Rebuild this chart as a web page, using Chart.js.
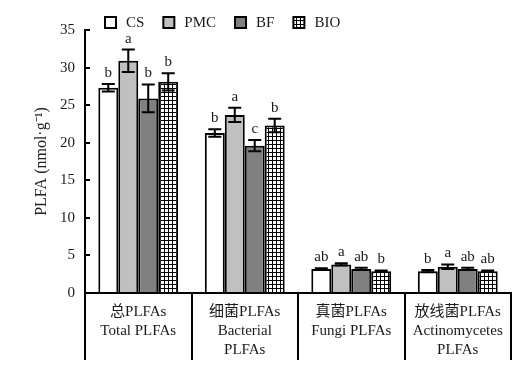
<!DOCTYPE html>
<html>
<head>
<meta charset="utf-8">
<script src="https://cdn.jsdelivr.net/npm/chart.js@4/dist/chart.umd.min.js"></script>
<style>
  body { margin: 0; background: #fff; }
  #wrap { width: 525px; height: 387px; }
</style>
</head>
<body>
<div id="wrap"><canvas id="plfa" width="525" height="387"></canvas></div>
<script>
// categories (two / three line labels)
let groups = [
  ["总PLFAs", "Total PLFAs"],
  ["细菌PLFAs", "Bacterial", "PLFAs"],
  ["真菌PLFAs", "Fungi PLFAs"],
  ["放线菌PLFAs", "Actinomycetes", "PLFAs"]
];
let treatments = ["CS", "PMC", "BF", "BIO"];

// means (nmol/g)
let cs = [27.3, 21.3, 3.2, 2.9];
let pmc = [30.9, 23.7, 3.8, 3.5];
let bf = [25.9, 19.6, 3.2, 3.2];
let bio = [28.1, 22.3, 2.9, 2.9];

// standard errors
let csErr = [0.5, 0.5, 0.1, 0.15];
let pmcErr = [1.5, 0.95, 0.15, 0.3];
let bfErr = [1.85, 0.75, 0.15, 0.15];
let bioErr = [1.15, 0.9, 0.1, 0.1];

// significance letters
let csSig = ["b", "b", "ab", "b"];
let pmcSig = ["a", "a", "a", "a"];
let bfSig = ["b", "c", "ab", "ab"];
let bioSig = ["b", "b", "b", "ab"];

let yTicks = [0, 5, 10, 15, 20, 25, 30, 35];

const serif = "'Liberation Serif', 'Times New Roman', 'Noto Sans CJK SC', serif";

// grid fill for BIO bars
function gridPattern() {
  let c = document.createElement("canvas");
  c.width = 4;
  c.height = 4;
  let g = c.getContext("2d");
  g.fillStyle = "#fff";
  g.fillRect(0, 0, 4, 4);
  g.fillStyle = "#000";
  g.fillRect(0, 0, 4, 1);
  g.fillRect(0, 0, 1, 4);
  return g.createPattern(c, "repeat");
}

const fills = ["#ffffff", "#c0c0c0", "#808080", gridPattern()];
const means = [cs, pmc, bf, bio];
const errs = [csErr, pmcErr, bfErr, bioErr];
const sigs = [csSig, pmcSig, bfSig, bioSig];

// error bars + letters above each bar
const errorBars = {
  id: "errorBars",
  afterDatasetsDraw(chart) {
    const ctx = chart.ctx;
    const y = chart.scales.y;
    ctx.save();
    chart.data.datasets.forEach((ds, d) => {
      const meta = chart.getDatasetMeta(d);
      meta.data.forEach((bar, i) => {
        const v = ds.data[i], e = errs[d][i];
        const top = y.getPixelForValue(v + e);
        const bot = y.getPixelForValue(v - e);
        ctx.strokeStyle = "#000";
        ctx.lineWidth = 2;
        ctx.beginPath();
        ctx.moveTo(bar.x, top);
        ctx.lineTo(bar.x, bot);
        ctx.moveTo(bar.x - 6.5, top);
        ctx.lineTo(bar.x + 6.5, top);
        ctx.moveTo(bar.x - 6.5, bot);
        ctx.lineTo(bar.x + 6.5, bot);
        ctx.stroke();
        ctx.fillStyle = "#1a1a1a";
        ctx.font = "15px " + serif;
        ctx.textAlign = "center";
        ctx.textBaseline = "alphabetic";
        ctx.fillText(sigs[d][i], bar.x, top - 7);
      });
    });
    ctx.restore();
  }
};

// legend row at the top
const boxLegend = {
  id: "boxLegend",
  afterDraw(chart) {
    const ctx = chart.ctx;
    let x = 105;
    const yBox = 17;
    ctx.save();
    ctx.font = "15px " + serif;
    ctx.textBaseline = "middle";
    ctx.textAlign = "left";
    chart.data.datasets.forEach(ds => {
      ctx.fillStyle = ds.backgroundColor;
      ctx.fillRect(x, yBox, 11, 11);
      ctx.strokeStyle = "#000";
      ctx.lineWidth = 2;
      ctx.strokeRect(x, yBox, 11, 11);
      ctx.fillStyle = "#1a1a1a";
      ctx.fillText(ds.label, x + 21, yBox + 6);
      x += 21 + ctx.measureText(ds.label).width + 19;
    });
    ctx.restore();
  }
};

let chart = new Chart(document.getElementById("plfa").getContext("2d"), {
  type: "bar",
  data: {
    labels: groups,
    datasets: treatments.map((t, d) => ({
      label: t,
      data: means[d],
      backgroundColor: fills[d],
      borderColor: "#000",
      borderWidth: 2,
      categoryPercentage: 0.75,
      barPercentage: 1
    }))
  },
  options: {
    responsive: false,
    animation: false,
    layout: { padding: { top: 30, right: 14, left: 0, bottom: 0 } },
    plugins: {
      legend: { display: false },
      tooltip: { enabled: false }
    },
    scales: {
      x: {
        offset: true,
        border: { display: true, color: "#000", width: 2 },
        grid: {
          display: true,
          offset: true,
          drawOnChartArea: false,
          drawTicks: true,
          tickLength: 67,
          color: "#000",
          lineWidth: 2
        },
        ticks: {
          color: "#1a1a1a",
          padding: -57.5,
          maxRotation: 0,
          autoSkip: false,
          font: { family: serif, size: 15, lineHeight: 19 / 15 }
        },
        afterFit(scale) { scale.height = 94; }
      },
      y: {
        min: 0,
        max: 35,
        afterBuildTicks(scale) { scale.ticks = yTicks.map(v => ({ value: v })); },
        border: { display: true, color: "#000", width: 2 },
        grid: {
          display: true,
          drawOnChartArea: false,
          drawTicks: true,
          tickLength: -5,
          color: "#000",
          lineWidth: 2
        },
        ticks: {
          color: "#1a1a1a",
          padding: 15,
          font: { family: serif, size: 15 }
        },
        title: {
          display: true,
          text: "PLFA (nmol·g⁻¹)",
          color: "#222",
          font: { family: serif, size: 16 },
          padding: { top: 32, bottom: 0 }
        },
        afterFit(scale) { scale.width = 85; }
      }
    }
  },
  plugins: [errorBars, boxLegend]
});
</script>
</body>
</html>
